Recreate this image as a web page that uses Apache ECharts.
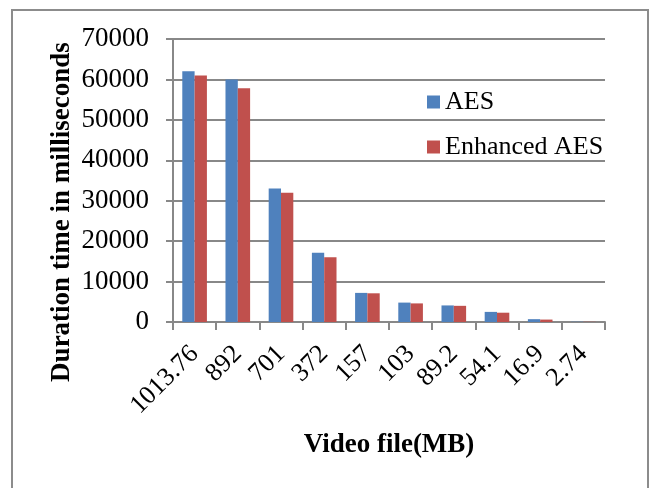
<!DOCTYPE html>
<html>
<head>
<meta charset="utf-8">
<script src="https://cdn.jsdelivr.net/npm/echarts@6/dist/echarts.min.js"></script>
<style>
  html, body { margin: 0; padding: 0; background: #fff; }
  #chart { width: 649px; height: 488px; }
</style>
</head>
<body>
<div id="chart"></div>
<script>
// Video file sizes (MB)
const categories = ['1013.76', '892', '701', '372', '157', '103', '89.2', '54.1', '16.9', '2.74'];
// Duration time in milliseconds
const aesValues = [62000, 60000, 33000, 17100, 7200, 4800, 4100, 2500, 700, 60];
const enhancedValues = [61000, 57800, 32000, 16000, 7100, 4600, 4000, 2300, 600, 50];
const yTicks = [0, 10000, 20000, 30000, 40000, 50000, 60000, 70000];

const serif = '"Liberation Serif", "Times New Roman", serif';
const gray = '#888888';

const chart = echarts.init(document.getElementById('chart'));
chart.setOption({
  animation: false,
  backgroundColor: '#ffffff',
  textStyle: { fontFamily: serif },
  grid: { left: 173, right: 44, top: 39, bottom: 166, containLabel: false },
  legend: {
    orient: 'vertical',
    left: 422,
    top: 84,
    itemWidth: 13,
    itemHeight: 13,
    itemGap: 19,
    icon: 'rect',
    textStyle: { fontFamily: serif, fontSize: 26, color: '#000' },
    data: ['AES', 'Enhanced AES']
  },
  xAxis: {
    type: 'category',
    data: categories,
    name: 'Video file(MB)',
    nameLocation: 'middle',
    nameGap: 110,
    nameTextStyle: { fontFamily: serif, fontSize: 27, fontWeight: 'bold', color: '#000' },
    axisLine: { lineStyle: { color: gray, width: 2 } },
    axisTick: { show: true, length: 8, lineStyle: { color: gray, width: 2 } },
    axisLabel: { rotate: 45, fontFamily: serif, fontSize: 26, color: '#000', margin: 28, interval: 0 }
  },
  yAxis: {
    type: 'value',
    min: yTicks[0],
    max: yTicks[yTicks.length - 1],
    interval: yTicks[1] - yTicks[0],
    axisLine: { show: true, lineStyle: { color: gray, width: 2 } },
    axisTick: { show: true, length: 7, lineStyle: { color: gray, width: 2 } },
    axisLabel: {
      fontFamily: serif, fontSize: 27, color: '#000', margin: 24,
      formatter: (v) => String(v)
    },
    splitLine: { lineStyle: { color: gray, width: 2 } }
  },
  graphic: [
    {
      type: 'rect',
      shape: { x: 12, y: 10, width: 636, height: 500 },
      style: { fill: 'none', stroke: '#8c8c8c', lineWidth: 2 },
      silent: true
    },
    {
      type: 'text',
      x: 62,
      y: 212,
      rotation: Math.PI / 2,
      style: {
        text: 'Duration time in milliseconds',
        fontFamily: serif,
        fontSize: 27,
        fontWeight: 'bold',
        fill: '#000',
        align: 'center',
        verticalAlign: 'middle'
      }
    }
  ],
  series: [
    {
      name: 'AES',
      type: 'bar',
      data: aesValues,
      barGap: '0%',
      barCategoryGap: '43%',
      itemStyle: { color: '#4F81BD' }
    },
    {
      name: 'Enhanced AES',
      type: 'bar',
      data: enhancedValues,
      barGap: '0%',
      barCategoryGap: '43%',
      itemStyle: { color: '#C0504D' }
    }
  ]
});
</script>
</body>
</html>
